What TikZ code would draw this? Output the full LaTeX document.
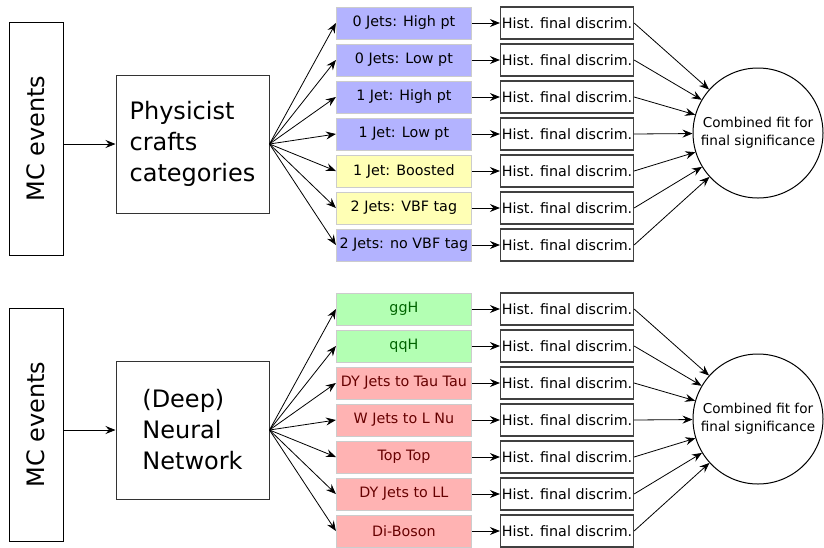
\documentclass[tikz,border=0pt]{standalone}
\usepackage{fontspec}
\setmainfont{DejaVu Sans}
\usepackage{tikz}
\usetikzlibrary{matrix,arrows.meta}

\definecolor{catblue}{HTML}{B3B3FF}
\definecolor{catyellow}{HTML}{FFFFB5}
\definecolor{catgreen}{HTML}{B3FFB3}
\definecolor{catred}{HTML}{FFB3B3}
\definecolor{txtgreen}{HTML}{006400}
\definecolor{txtred}{HTML}{660000}

\tikzset{
  >={Stealth[length=10pt,width=8pt,inset=3.5pt]},
  evbox/.style={draw=black, line width=1pt, rotate=90, minimum width=233pt,
    minimum height=54pt, font=\fontsize{24}{29}\selectfont},
  procbox/.style={draw=black!80, line width=1pt, minimum width=153pt,
    minimum height=138pt, align=left, font=\fontsize{24}{31}\selectfont},
  catbox/.style={draw=black!20, line width=1pt, minimum width=135pt,
    minimum height=32pt, inner xsep=1pt},
  histbox/.style={draw=black!75, line width=1.2pt, minimum width=133pt,
    minimum height=32pt, inner xsep=1pt},
  blucat/.style={fill=catblue},
  yelcat/.style={fill=catyellow},
  grncat/.style={fill=catgreen, text=txtgreen},
  redcat/.style={fill=catred, text=txtred},
  fitnode/.style={circle, draw, line width=1pt, minimum size=130pt, inner sep=0pt,
    align=center, font=\fontsize{13.6}{18}\selectfont},
  catmatrix/.style={matrix of nodes, row sep=3.8pt, column sep=28pt,
    nodes={font=\fontsize{14.3}{17}\selectfont, anchor=center},
    column 1/.style={nodes=catbox}, column 2/.style={nodes=histbox}}
}

\begin{document}
\begin{tikzpicture}[x=1pt, y=-1pt]
  \useasboundingbox (0,0) rectangle (824,547);

  % hand-made categories
  \node[evbox] (mctop) at (36,138.5) {MC events};
  \node[procbox] (crafts) at (192.5,144) {Physicist\\crafts\\categories};
  \matrix (topm) at (485,134) [catmatrix]
  {
    |[blucat]| 0 Jets: High pt    & Hist. final discrim. \\
    |[blucat]| 0 Jets: Low pt     & Hist. final discrim. \\
    |[blucat]| 1 Jet: High pt     & Hist. final discrim. \\
    |[blucat]| 1 Jet: Low pt      & Hist. final discrim. \\
    |[yelcat]| 1 Jet: Boosted     & Hist. final discrim. \\
    |[yelcat]| 2 Jets: VBF tag    & Hist. final discrim. \\
    |[blucat]| 2 Jets: no VBF tag & Hist. final discrim. \\
  };
  \node[fitnode] (fittop) at (758,133) {Combined fit for\\final significance};

  % network output classes
  \node[evbox] (mcbot) at (36,424.5) {MC events};
  \node[procbox] (dnn) at (192.5,430) {(Deep)\\Neural\\Network};
  \matrix (botm) at (485,420) [catmatrix]
  {
    |[grncat]| ggH                & Hist. final discrim. \\
    |[grncat]| qqH                & Hist. final discrim. \\
    |[redcat]| DY Jets to Tau Tau & Hist. final discrim. \\
    |[redcat]| W Jets to L Nu     & Hist. final discrim. \\
    |[redcat]| Top Top            & Hist. final discrim. \\
    |[redcat]| DY Jets to LL      & Hist. final discrim. \\
    |[redcat]| Di-Boson           & Hist. final discrim. \\
  };
  \node[fitnode] (fitbot) at (758,419) {Combined fit for\\final significance};

  \path[->, line width=0.8pt]
  (mctop.south |- crafts.west) edge (crafts.west)
  (crafts.east) edge (topm-1-1.west) edge (topm-2-1.west) edge (topm-3-1.west)
  edge (topm-4-1.west) edge (topm-5-1.west) edge (topm-6-1.west) edge (topm-7-1.west)
  (topm-1-1) edge (topm-1-2)  (topm-2-1) edge (topm-2-2)  (topm-3-1) edge (topm-3-2)
  (topm-4-1) edge (topm-4-2)  (topm-5-1) edge (topm-5-2)  (topm-6-1) edge (topm-6-2)
  (topm-7-1) edge (topm-7-2)
  (topm-1-2.east) edge (fittop)  (topm-2-2.east) edge (fittop)  (topm-3-2.east) edge (fittop)
  (topm-4-2.east) edge (fittop)  (topm-5-2.east) edge (fittop)  (topm-6-2.east) edge (fittop)
  (topm-7-2.east) edge (fittop)
  ;
  \path[->, line width=0.8pt]
  (mcbot.south |- dnn.west) edge (dnn.west)
  (dnn.east) edge (botm-1-1.west) edge (botm-2-1.west) edge (botm-3-1.west)
  edge (botm-4-1.west) edge (botm-5-1.west) edge (botm-6-1.west) edge (botm-7-1.west)
  (botm-1-1) edge (botm-1-2)  (botm-2-1) edge (botm-2-2)  (botm-3-1) edge (botm-3-2)
  (botm-4-1) edge (botm-4-2)  (botm-5-1) edge (botm-5-2)  (botm-6-1) edge (botm-6-2)
  (botm-7-1) edge (botm-7-2)
  (botm-1-2.east) edge (fitbot)  (botm-2-2.east) edge (fitbot)  (botm-3-2.east) edge (fitbot)
  (botm-4-2.east) edge (fitbot)  (botm-5-2.east) edge (fitbot)  (botm-6-2.east) edge (fitbot)
  (botm-7-2.east) edge (fitbot)
  ;
\end{tikzpicture}
\end{document}
